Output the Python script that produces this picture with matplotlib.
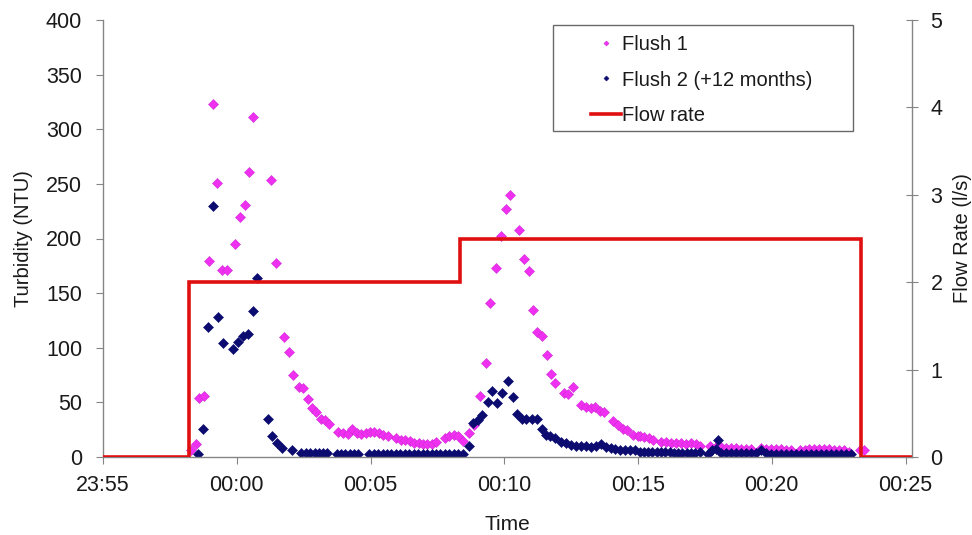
import numpy as np
import matplotlib
matplotlib.use('Agg')
import matplotlib.pyplot as plt
from matplotlib.patches import Rectangle

plt.rcParams['font.family'] = ['Liberation Sans', 'DejaVu Sans']

# ---------------------------------------------------------------- DATA
# time in minutes after 23:55
flush1_t = [3.28, 3.47, 3.59, 3.78, 3.97, 4.13, 4.28, 4.46, 4.62, 4.94, 5.13,
            5.29, 5.46, 5.61, 6.27, 6.46, 6.78, 6.96, 7.12, 7.31, 7.46, 7.65,
            7.83, 7.96, 8.14, 8.31, 8.46, 8.80, 8.98, 9.14, 9.30, 9.48, 9.64,
            9.83, 9.97, 10.14, 10.30, 10.48, 10.64, 10.95, 11.14, 11.30, 11.47,
            11.63, 11.82, 11.97, 12.13, 12.30, 12.45, 12.78, 12.94, 13.11,
            13.28, 13.44, 13.69, 13.85, 14.10, 14.30, 14.48, 14.69, 14.88,
            15.07, 15.23, 15.56, 15.75, 15.91, 16.09, 16.22, 16.40, 16.59,
            16.75, 16.91, 17.25, 17.40, 17.57, 17.87, 18.06, 18.24, 18.41,
            18.58, 18.74, 19.08, 19.24, 19.43, 19.59, 19.80, 19.99, 20.08,
            20.24, 20.40, 20.55, 20.86, 21.05, 21.24, 21.42, 21.61, 21.80,
            21.99, 22.15, 22.32, 22.70, 22.92, 23.11, 23.30, 23.48, 23.67,
            23.86, 24.04, 24.23, 24.61, 24.79, 24.98, 25.16, 25.35, 25.54,
            25.73, 26.04, 26.23, 26.39, 26.57, 26.76, 26.94, 27.12, 27.31,
            27.50, 27.69, 27.87, 28.31, 28.44]
flush1_ntu = [6, 12, 54, 56, 179, 323, 251, 171, 171, 195, 220,
              231, 261, 311, 254, 178, 110, 96, 75, 64, 63, 53,
              45, 41, 35, 34, 30, 23, 22, 21, 26, 22, 21,
              22, 23, 23, 22, 20, 19, 17, 16, 16, 15,
              13, 13, 12, 12, 12, 14, 17, 19, 20,
              19, 15, 22, 29, 56, 86, 141, 173, 202,
              227, 240, 208, 181, 170, 135, 114, 111, 93,
              76, 68, 59, 58, 64, 48, 46, 45, 46,
              42, 41, 33, 29, 26, 25, 20, 19, 19,
              18, 17, 16, 14, 14, 13, 13, 13, 12,
              13, 12, 10, 10, 9, 9, 8, 8, 8,
              7, 7, 7, 8, 7, 7, 7, 7, 6,
              6, 6, 6, 7, 7, 7, 7, 7, 6,
              6, 6, 5, 6, 6]

flush2_t = [3.55, 3.75, 3.92, 4.13, 4.31, 4.50, 4.85, 5.05, 5.24, 5.42, 5.60,
            5.77, 6.15, 6.33, 6.51, 6.68, 7.06, 7.42, 7.58, 7.75, 7.91, 8.08,
            8.23, 8.39, 8.73, 8.89, 9.05, 9.23, 9.39, 9.55, 9.95, 10.12, 10.28,
            10.45, 10.61, 10.78, 10.95, 11.12, 11.28, 11.45, 11.61, 11.78,
            11.95, 12.12, 12.28, 12.45, 12.61, 12.78, 12.95, 13.12, 13.28,
            13.44, 13.67, 13.82, 14.00, 14.17, 14.38, 14.53, 14.73, 14.92,
            15.13, 15.31, 15.48, 15.66, 15.83, 16.03, 16.21, 16.41, 16.56,
            16.72, 16.91, 17.12, 17.31, 17.50, 17.68, 17.87, 18.06, 18.24,
            18.43, 18.62, 18.80, 18.99, 19.15, 19.34, 19.53, 19.70, 19.90,
            20.06, 20.22, 20.38, 20.54, 20.70, 20.86, 21.02, 21.18, 21.34,
            21.50, 21.66, 21.82, 21.98, 22.14, 22.30, 22.62, 22.77, 22.90,
            23.00, 23.10, 23.29, 23.48, 23.66, 23.85, 24.04, 24.23, 24.41,
            24.60, 24.79, 24.97, 25.16, 25.35, 25.54, 25.72, 25.91, 26.10,
            26.29, 26.47, 26.66, 26.85, 27.04, 27.22, 27.41, 27.60, 27.79,
            27.97]
flush2_ntu = [3, 26, 119, 230, 128, 104, 99, 105, 111, 113, 134,
              164, 35, 19, 13, 8, 6, 4, 4, 4, 4, 4,
              4, 4, 3, 3, 3, 3, 3, 3, 3, 3, 3,
              3, 3, 3, 3, 3, 3, 3, 3, 3,
              3, 3, 3, 3, 3, 3, 3, 3, 3,
              3, 10, 31, 34, 38, 50, 60, 49, 59,
              70, 55, 39, 35, 35, 35, 35, 26, 20,
              19, 17, 14, 13, 11, 10, 10, 10, 9,
              10, 12, 9, 8, 7, 6, 6, 6, 6,
              5, 5, 5, 5, 5, 5, 5, 5, 4,
              4, 4, 4, 4, 4, 5, 3, 6, 7,
              16, 4, 4, 4, 4, 4, 4, 4, 4,
              6, 4, 3, 3, 3, 3, 3, 3, 3,
              3, 3, 3, 3, 3, 3, 3, 3, 3,
              3]

flow_t = [0, 3.22, 3.22, 13.33, 13.33, 28.35, 28.35, 30.23]
flow_rate = [0, 0, 2.0, 2.0, 2.5, 2.5, 0, 0]

time_ticks = [0, 5, 10, 15, 20, 25, 30]
time_labels = ['23:55', '00:00', '00:05', '00:10', '00:15', '00:20', '00:25']

# ---------------------------------------------------------------- FIGURE
axis_grey = '#858585'
text_col = '#1a1a1a'

fig = plt.figure(figsize=(9.72, 5.35), dpi=100)
ax = fig.add_axes([103 / 972, 78 / 535, 808.7 / 972, 437 / 535])
ax2 = ax.twinx()

ax.plot(flush1_t, flush1_ntu, ls='none', marker='D', ms=4.6,
        color='#f030f0', mec='#d028d8', mew=0.4, label='Flush 1')
ax.plot(flush2_t, flush2_ntu, ls='none', marker='D', ms=4.6,
        color='#0c0c70', mec='#0c0c70', mew=0.4,
        label='Flush 2 (+12 months)')
ax2.plot(flow_t, flow_rate, color='#e01010', lw=2.6,
         solid_joinstyle='miter', label='Flow rate')

ax.set_xlim(0, 30.23)
ax.set_ylim(0, 400)
ax2.set_ylim(0, 5)
ax.set_xticks(time_ticks)
ax.set_xticklabels(time_labels)
ax.set_yticks(np.arange(0, 401, 50))
ax2.set_yticks(np.arange(0, 6, 1))

for a in (ax, ax2):
    for s in a.spines.values():
        s.set_color(axis_grey)
        s.set_linewidth(1.0)
    a.spines['top'].set_visible(False)
ax.spines['right'].set_visible(False)
ax2.spines['left'].set_visible(False)
ax2.spines['bottom'].set_visible(False)

ax.tick_params(axis='both', colors=axis_grey, labelcolor=text_col,
               labelsize=15.5, length=5, direction='out', pad=10)
ax.tick_params(axis='x', pad=8)
ax2.tick_params(axis='y', colors=axis_grey, labelcolor=text_col,
                labelsize=15.5, length=9, direction='inout', pad=9)

ax.set_ylabel('Turbidity (NTU)', fontsize=14.5, color=text_col, labelpad=9)
ax.set_xlabel('Time', fontsize=15, color=text_col)
ax.xaxis.set_label_coords(0.5, -0.132)
ax2.set_ylabel('Flow Rate (l/s)', fontsize=14.5, color=text_col)
ax2.yaxis.set_label_coords(1.051, 0.5)

# legend: frame drawn separately so the entries can sit indented
frame = Rectangle((553 / 972, 1 - 131 / 535), 300 / 972, 106 / 535,
                  transform=fig.transFigure, facecolor='white',
                  edgecolor='#6a6a6a', lw=1.0, zorder=19, clip_on=False)
ax.add_patch(frame)

handles = ax.get_lines() + ax2.get_lines()
leg = ax.legend(handles, [h.get_label() for h in handles],
                loc='upper left', bbox_to_anchor=(591 / 972, 1 - 35 / 535),
                bbox_transform=fig.transFigure, fontsize=14.5,
                frameon=False, markerscale=0.55, handlelength=1.5,
                handletextpad=0.05, labelspacing=0.82, borderpad=0,
                borderaxespad=0)
leg.set_zorder(20)
for t in leg.get_texts():
    t.set_color(text_col)

plt.savefig('out.png', dpi=100)
